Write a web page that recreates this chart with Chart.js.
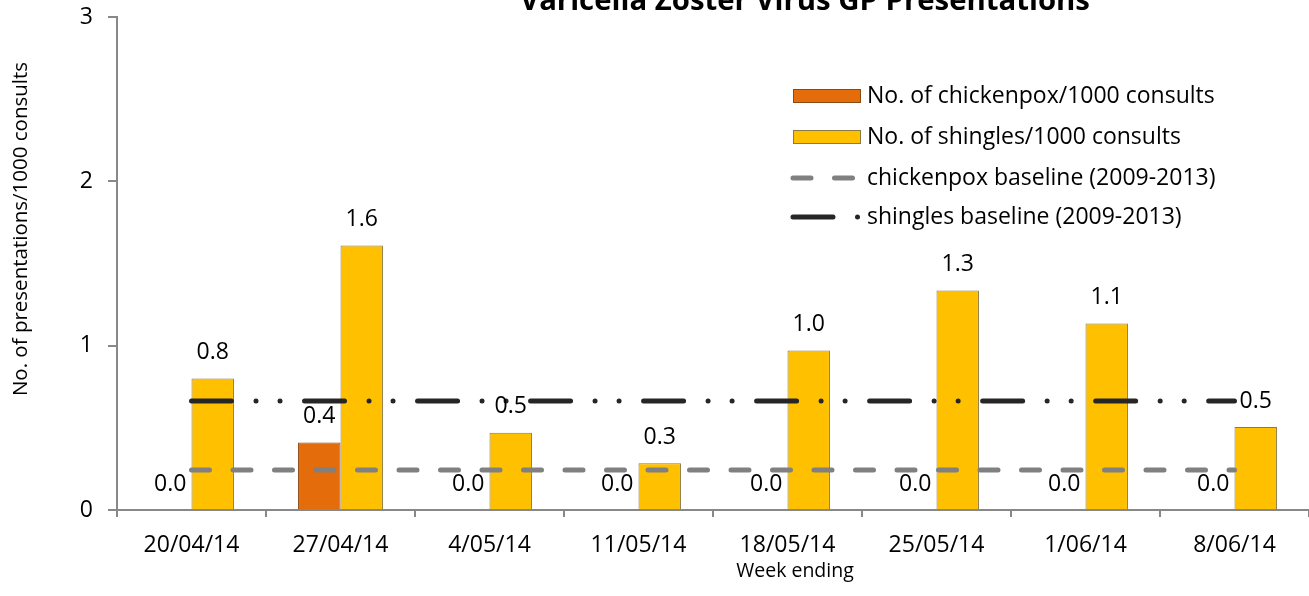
<!DOCTYPE html>
<html>
<head>
<meta charset="utf-8">
<script src="https://cdn.jsdelivr.net/npm/chart.js@4.4.1/dist/chart.umd.min.js"></script>
<style>
  html, body { margin: 0; padding: 0; background: #ffffff; }
  #wrap { width: 1309px; height: 596px; position: relative; }
</style>
</head>
<body>
<div id="wrap"><canvas id="c"></canvas></div>
<script>
// ---- data ----
const chartTitle = 'Varicella Zoster Virus GP Presentations';
const categories = ['20/04/14', '27/04/14', '4/05/14', '11/05/14', '18/05/14', '25/05/14', '1/06/14', '8/06/14'];
const chickenpox = [0.0, 0.41, 0.0, 0.0, 0.0, 0.0, 0.0, 0.0];
const shingles = [0.80, 1.61, 0.47, 0.285, 0.97, 1.335, 1.135, 0.505];
const chickenpoxBaseline = [0.243, 0.243, 0.243, 0.243, 0.243, 0.243, 0.243, 0.243];
const shinglesBaseline = [0.663, 0.663, 0.663, 0.663, 0.663, 0.663, 0.663, 0.663];
const yTicks = [0, 1, 2, 3];
const seriesLabels = ['No. of chickenpox/1000 consults', 'No. of shingles/1000 consults', 'chickenpox baseline (2009-2013)', 'shingles baseline (2009-2013)'];
const yTitle = 'No. of presentations/1000 consults';
const xTitle = 'Week ending';

const FONT = '"Open Sans", "Noto Sans", sans-serif';
const AXIS = '#888888';
const dashChickenpox = [18, 23.5];
const dashShingles = [40, 24.5, 0.01, 24, 0.01, 24.5];

Chart.defaults.font.family = FONT;
Chart.defaults.color = '#000000';

const titlePlugin = {
  id: 'topTitle',
  afterDraw(chart) {
    const ctx = chart.ctx;
    ctx.save();
    ctx.font = 'bold 32px ' + FONT;
    const w = ctx.measureText(chartTitle).width;
    const size = 32 * 570 / w;
    ctx.font = 'bold ' + size.toFixed(2) + 'px ' + FONT;
    ctx.fillStyle = '#000000';
    ctx.textAlign = 'center';
    ctx.textBaseline = 'alphabetic';
    ctx.fillText(chartTitle, 805, 10);
    // x axis title
    ctx.font = '19.5px ' + FONT;
    ctx.textBaseline = 'middle';
    ctx.fillText(xTitle, 795, 571);
    // y axis title
    ctx.font = '20.5px ' + FONT;
    ctx.translate(21, 229);
    ctx.rotate(-Math.PI / 2);
    ctx.fillText(yTitle, 0, 0);
    ctx.restore();
  }
};

const valueLabels = {
  id: 'valueLabels',
  afterDatasetsDraw(chart) {
    const ctx = chart.ctx;
    ctx.save();
    ctx.font = '23px ' + FONT;
    ctx.fillStyle = '#000000';
    ctx.textAlign = 'center';
    ctx.textBaseline = 'middle';
    chart.data.datasets.forEach((ds, i) => {
      if (ds.type !== 'bar') return;
      const meta = chart.getDatasetMeta(i);
      meta.data.forEach((el, j) => {
        ctx.fillText(ds.data[j].toFixed(1), el.x, el.y - 26);
      });
    });
    ctx.restore();
  }
};

const innerLegend = {
  id: 'innerLegend',
  afterDraw(chart) {
    const ctx = chart.ctx;
    const ds = chart.data.datasets;
    const rows = [96, 137, 178, 217];
    const x0 = 793, x1 = 861, tx = 867;
    ctx.save();
    rows.forEach((y, i) => {
      const d = ds[i];
      if (d.type === 'bar') {
        ctx.fillStyle = d.backgroundColor;
        ctx.fillRect(x0, y - 7, x1 - x0, 14);
        ctx.strokeStyle = d.borderColor;
        ctx.lineWidth = 1;
        ctx.strokeRect(x0 + 0.5, y - 7 + 0.5, x1 - x0 - 1, 13);
      } else {
        ctx.strokeStyle = d.borderColor;
        ctx.lineWidth = d.borderWidth;
        ctx.lineCap = 'round';
        ctx.setLineDash(d.borderDash);
        ctx.beginPath();
        ctx.moveTo(x0, y);
        ctx.lineTo(x1 - 2, y);
        ctx.stroke();
        ctx.setLineDash([]);
      }
      ctx.font = '23px ' + FONT;
      ctx.fillStyle = '#000000';
      ctx.textAlign = 'left';
      ctx.textBaseline = 'middle';
      ctx.fillText(d.label, tx, y);
    });
    ctx.restore();
  }
};

new Chart(document.getElementById('c'), {
  data: {
    labels: categories,
    datasets: [
      {
        type: 'bar', label: seriesLabels[0], data: chickenpox,
        backgroundColor: '#E46C0A', borderColor: '#8a4a14', borderWidth: 1,
        categoryPercentage: 0.57, barPercentage: 1.0, order: 2
      },
      {
        type: 'bar', label: seriesLabels[1], data: shingles,
        backgroundColor: '#FFC000', borderColor: '#8c7a44', borderWidth: 1,
        categoryPercentage: 0.57, barPercentage: 1.0, order: 2
      },
      {
        type: 'line', label: seriesLabels[2], data: chickenpoxBaseline,
        borderColor: '#808080', borderWidth: 5, borderDash: dashChickenpox,
        borderCapStyle: 'round', pointRadius: 0, fill: false, order: 1
      },
      {
        type: 'line', label: seriesLabels[3], data: shinglesBaseline,
        borderColor: '#262626', borderWidth: 5, borderDash: dashShingles,
        borderCapStyle: 'round', pointRadius: 0, fill: false, order: 0
      }
    ]
  },
  options: {
    responsive: true,
    maintainAspectRatio: false,
    animation: false,
    layout: { padding: { top: 17, left: 0, right: 0, bottom: 0 } },
    plugins: {
      legend: { display: false },
      tooltip: { enabled: false },
      title: { display: false }
    },
    scales: {
      x: {
        type: 'category',
        offset: true,
        grid: { display: true, drawOnChartArea: false, drawTicks: true, tickLength: 7, color: AXIS, lineWidth: 2, offset: true },
        border: { display: true, color: AXIS, width: 2 },
        ticks: { font: { size: 23 }, color: '#000000', padding: 15, maxRotation: 0, autoSkip: false },
        title: { display: false },
        afterFit(scale) { scale.height = 86; }
      },
      y: {
        min: 0, max: 3,
        afterBuildTicks(scale) { scale.ticks = yTicks.map(v => ({ value: v })); },
        grid: { display: true, drawOnChartArea: false, drawTicks: true, tickLength: 9, color: AXIS, lineWidth: 2 },
        border: { display: true, color: AXIS, width: 2 },
        ticks: { font: { size: 23 }, color: '#000000', padding: 15 },
        title: { display: false },
        afterFit(scale) { scale.width = 117; scale.paddingTop = 0; scale.paddingBottom = 0; }
      }
    }
  },
  plugins: [titlePlugin, valueLabels, innerLegend]
});
</script>
</body>
</html>
